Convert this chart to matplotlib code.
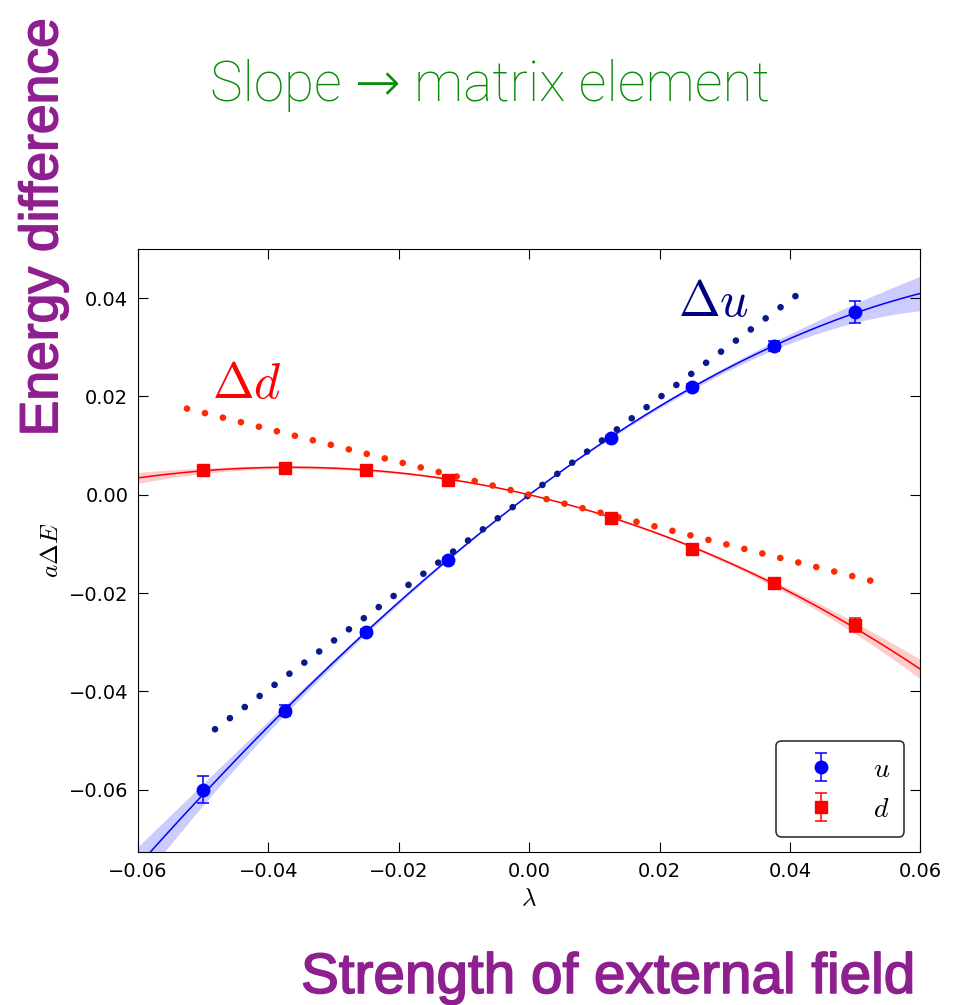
import numpy as np
import matplotlib
matplotlib.use("Agg")
import matplotlib.pyplot as plt
import matplotlib.patheffects as pe

plt.rcParams['mathtext.fontset'] = 'cm'

# lattice data
lam = [-0.05, -0.0375, -0.025, -0.0125, 0.0125, 0.025, 0.0375, 0.05]
u_vals = [-0.0600, -0.0439, -0.0280, -0.0132, 0.0116, 0.0219, 0.0303, 0.0372]
u_errs = [0.0028, 0.0012, 0.0006, 0.0004, 0.0004, 0.0006, 0.0010, 0.0023]
d_vals = [0.0050, 0.0055, 0.0050, 0.0030, -0.0047, -0.0110, -0.0180, -0.0265]
d_errs = [0.0005, 0.0004, 0.0004, 0.0003, 0.0003, 0.0005, 0.0006, 0.0015]

# slope lines (tangent at lambda=0), with number of dot gaps
u_slope = 0.99
u_slope_range = [-0.0482, 0.041]
u_ndots = 40
d_slope = -0.334
d_slope_range = [-0.0525, 0.0525]
d_ndots = 39

xticks = [-0.06, -0.04, -0.02, 0.00, 0.02, 0.04, 0.06]
yticks = [-0.06, -0.04, -0.02, 0.00, 0.02, 0.04]


def fit(x, y, e, xs):
    # weighted fit y = b*x + c*x^2 + d*x^3
    x = np.asarray(x); y = np.asarray(y); e = np.asarray(e)
    A = np.vstack([x, x**2, x**3]).T
    Aw = A / e[:, None]
    p, *_ = np.linalg.lstsq(Aw, y / e, rcond=None)
    cov = np.linalg.inv(Aw.T @ Aw)
    X = np.vstack([xs, xs**2, xs**3]).T
    f = X @ p
    sig = np.sqrt(np.einsum('ij,jk,ik->i', X, cov, X))
    return f, 1.25 * sig


def dotted(ax, rng, slope, ndots, color, lw=4.8):
    l = np.array(rng)
    y = slope * l
    pts = ax.transData.transform(np.column_stack([l, y]))
    length = np.hypot(*(pts[1] - pts[0])) * 72.0 / ax.figure.dpi
    period = length / (ndots - 1) / lw * 0.998
    ax.plot(l, y, color=color, lw=lw, linestyle=(0, (0.01, period - 0.01)),
            dash_capstyle='round')


fig = plt.figure(figsize=(9.6, 10.05), dpi=100)
ax = fig.add_axes([0.1438, 0.1522, 0.815, 0.600])
ax.set_xlim(-0.06, 0.06)
ax.set_ylim(-0.0727, 0.05)

xs = np.linspace(-0.06, 0.06, 300)
fu, su = fit(lam, u_vals, u_errs, xs)
fd, sd = fit(lam, d_vals, d_errs, xs)

ax.fill_between(xs, fu - su, fu + su, color='blue', alpha=0.2, lw=0)
ax.plot(xs, fu, color='blue', lw=1.1)
ax.fill_between(xs, fd - sd, fd + sd, color='red', alpha=0.2, lw=0)
ax.plot(xs, fd, color='red', lw=1.1)

dotted(ax, u_slope_range, u_slope, u_ndots, '#0a1a8c')
dotted(ax, d_slope_range, d_slope, d_ndots, '#ff2a00')

ax.errorbar(lam, u_vals, yerr=u_errs, fmt='o', color='blue', ms=9, mec='blue',
            capsize=4, elinewidth=1.1, capthick=1.1, label='$u$')
ax.errorbar(lam, d_vals, yerr=d_errs, fmt='s', color='red', ms=9, mec='red',
            capsize=4, elinewidth=1.1, capthick=1.1, label='$d$')

ax.text(-0.0487, 0.0197, r'$\Delta d$', color='red', fontsize=36, ha='left', va='baseline')
ax.text(0.0228, 0.0363, r'$\Delta u$', color='#000080', fontsize=36, ha='left', va='baseline')

ax.set_xticks(xticks)
ax.set_yticks(yticks)
ax.set_xticklabels([f"{t:.2f}".replace('-', '\u2212') for t in xticks])
ax.set_yticklabels([f"{t:.2f}".replace('-', '\u2212') for t in yticks])
ax.tick_params(labelsize=14, direction='in', length=7, top=True, right=True, pad=7)
ax.set_xlabel(r'$\lambda$', fontsize=18)
ax.set_ylabel(r'$a\Delta E$', fontsize=18)

leg = ax.legend(loc='lower right', fontsize=20, numpoints=1, fancybox=True,
                borderpad=0.5, labelspacing=0.45, handlelength=2.2,
                borderaxespad=0, bbox_to_anchor=(0.9796, 0.025))
leg.get_frame().set_edgecolor('black')
leg.get_frame().set_linewidth(1.2)

purple = '#8e1f8e'
thick = [pe.withStroke(linewidth=1.2, foreground=purple)]
fig.text(0.51, 0.9, 'Slope \u2192 matrix element', color='#0a8c0a', fontsize=39.5,
         family=['Roboto', 'DejaVu Sans'], weight='light', ha='center', va='baseline')
fig.text(0.045, 0.774, 'Energy difference', color=purple, fontsize=38.5,
         family=['Liberation Sans', 'DejaVu Sans'], rotation=90,
         ha='center', va='center', path_effects=thick)
fig.text(0.953, 0.012, 'Strength of external field', color=purple, fontsize=40.8,
         family=['Liberation Sans', 'DejaVu Sans'], ha='right', va='baseline',
         path_effects=thick)

fig.savefig('out.png', dpi=100)
